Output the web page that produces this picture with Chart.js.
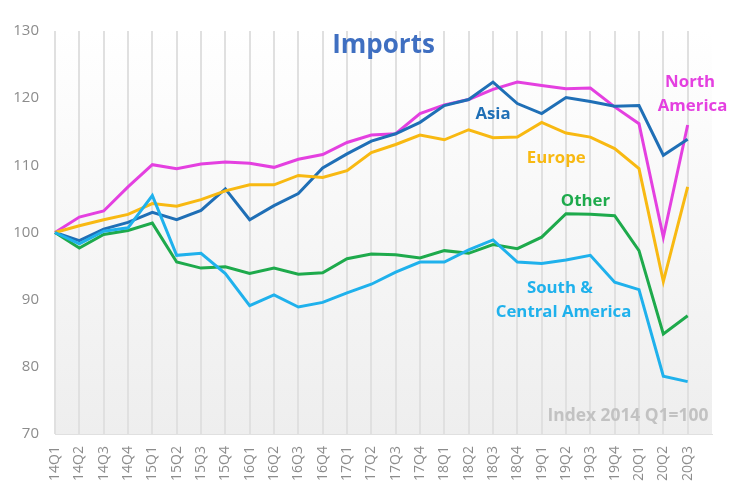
<!DOCTYPE html>
<html><head><meta charset="utf-8">
<script src="https://cdn.jsdelivr.net/npm/chart.js@4/dist/chart.umd.min.js"></script>
<style>html,body{margin:0;padding:0;background:#fff}#wrap{width:730px;height:499px}</style>
</head><body><div id="wrap"><canvas id="c" width="730" height="499"></canvas></div>
<script>
const quarters = ['14Q1','14Q2','14Q3','14Q4','15Q1','15Q2','15Q3','15Q4','16Q1','16Q2','16Q3','16Q4','17Q1','17Q2','17Q3','17Q4','18Q1','18Q2','18Q3','18Q4','19Q1','19Q2','19Q3','19Q4','20Q1','20Q2','20Q3'];
const northAmerica = [100,102.3,103.2,106.8,110.1,109.5,110.2,110.5,110.3,109.7,110.9,111.6,113.4,114.5,114.7,117.7,119.0,119.8,121.3,122.4,121.9,121.4,121.5,118.7,116.2,99.3,116.0];
const asia = [100,98.8,100.5,101.5,103.0,101.9,103.3,106.5,101.9,104.0,105.8,109.6,111.7,113.6,114.7,116.4,118.9,119.8,122.4,119.2,117.7,120.1,119.5,118.8,118.9,111.5,113.9];
const europe = [100,101.0,101.9,102.7,104.3,103.9,104.9,106.2,107.1,107.1,108.5,108.2,109.2,111.9,113.1,114.5,113.8,115.3,114.1,114.2,116.4,114.8,114.2,112.5,109.5,92.7,106.8];
const other = [100,97.7,99.7,100.3,101.4,95.6,94.7,94.9,93.9,94.7,93.8,94.0,96.1,96.8,96.7,96.2,97.3,96.9,98.2,97.6,99.3,102.8,102.7,102.5,97.3,84.9,87.6];
const southCentral = [100,98.3,100.2,100.7,105.5,96.6,96.9,93.9,89.1,90.7,88.9,89.6,91.0,92.3,94.1,95.6,95.6,97.4,98.9,95.6,95.4,95.9,96.6,92.6,91.5,78.6,77.8];
const yTicks = [70,80,90,100,110,120,130];

const FONT = '"Open Sans", Lato, sans-serif';
const C = {na:'#e440e0', asia:'#1f6fb6', eu:'#f8b912', other:'#1eaa4c', sca:'#1fb1ec', title:'#3f6fc1'};

const labels = quarters.concat(['']);

// annotation texts anchored on scale coordinates (x index, y value)
const notes = [
  {t:'Imports', x:13.5, y:127.9, c:C.title, s:26, a:'center'},
  {t:'Asia', x:18.0, y:117.6, c:C.asia, s:16.8, a:'center'},
  {t:'Europe', x:20.6, y:111.1, c:C.eu, s:16.8, a:'center'},
  {t:'Other', x:21.8, y:104.7, c:C.other, s:16.8, a:'center'},
  {t:'South &', x:20.75, y:91.7, c:C.sca, s:16.8, a:'center'},
  {t:'Central America', x:20.9, y:88.1, c:C.sca, s:16.8, a:'center'},
  {t:'North', x:26.1, y:122.3, c:C.na, s:16.8, a:'center'},
  {t:'America', x:26.2, y:118.8, c:C.na, s:16.8, a:'center'},
  {t:'Index 2014 Q1=100', x:26.85, y:72.6, c:'#c2c2c2', s:17.4, a:'right'}
];

const bgPlugin = {
  id:'bg',
  beforeDraw(chart){
    const {ctx, chartArea:a} = chart;
    const g = ctx.createLinearGradient(0,a.top,0,a.bottom);
    g.addColorStop(0,'#ffffff');
    g.addColorStop(1,'#eeeeee');
    ctx.save(); ctx.fillStyle = g; ctx.fillRect(a.left,a.top,a.right-a.left,a.bottom-a.top); ctx.restore();
  }
};
const textPlugin = {
  id:'notes',
  afterDatasetsDraw(chart){
    const {ctx, scales} = chart;
    ctx.save();
    ctx.textBaseline = 'middle';
    notes.forEach(n=>{
      ctx.font = 'bold ' + n.s + 'px ' + FONT;
      ctx.fillStyle = n.c;
      ctx.textAlign = n.a;
      ctx.fillText(n.t, scales.x.getPixelForValue(n.x), scales.y.getPixelForValue(n.y));
    });
    ctx.restore();
  }
};

function ds(data, color){
  return {data, borderColor:color, backgroundColor:color, borderWidth:3, pointRadius:0, tension:0, fill:false};
}

new Chart(document.getElementById('c'), {
  type:'line',
  data:{labels, datasets:[ds(southCentral,C.sca), ds(other,C.other), ds(europe,C.eu), ds(asia,C.asia), ds(northAmerica,C.na)]},
  options:{
    responsive:false, animation:false,
    layout:{padding:{top:31, right:18, bottom:0, left:0}},
    plugins:{legend:{display:false}, tooltip:{enabled:false}, title:{display:false}},
    scales:{
      x:{
        offset:false,
        grid:{color:(c)=> c.index===labels.length-1 ? 'rgba(0,0,0,0)' : '#e0e0e0', lineWidth:2, drawTicks:false},
        border:{color:'#e0e0e0', width:1},
        ticks:{autoSkip:false, maxRotation:90, minRotation:90, padding:12, color:'#8c8c8c', font:{family:FONT, size:14}},
        afterFit(s){ s.height = 65; s.paddingRight = 0; s.paddingLeft = 0; }
      },
      y:{
        min:70, max:130,
        afterBuildTicks(s){ s.ticks = yTicks.map(v=>({value:v})); },
        grid:{display:false, drawTicks:false},
        border:{display:false},
        ticks:{padding:16, color:'#8c8c8c', font:{family:FONT, size:15}},
        afterFit(s){ s.width = 55; }
      }
    }
  },
  plugins:[bgPlugin, textPlugin]
});
</script></body></html>
